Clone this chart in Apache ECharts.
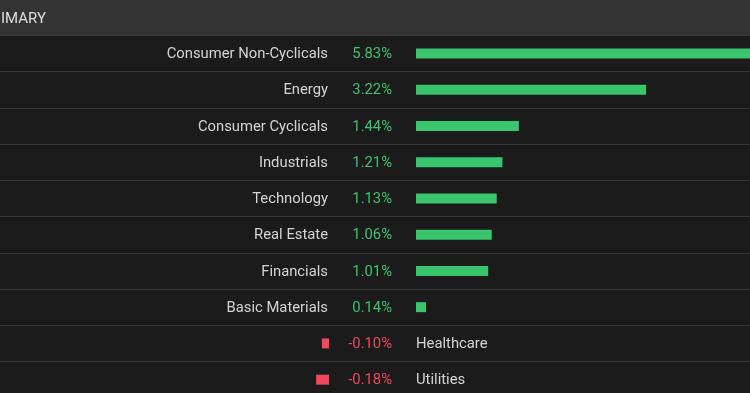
<!DOCTYPE html>
<html>
<head>
<meta charset="utf-8">
<script src="https://cdn.jsdelivr.net/npm/echarts@6/dist/echarts.min.js"></script>
<style>
html,body{margin:0;padding:0;background:#1b1b1b;}
#chart{width:750px;height:393px;}
</style>
</head>
<body>
<div id="chart"></div>
<script>
const headerText = 'IMARY';
const categories = ['Consumer Non-Cyclicals','Energy','Consumer Cyclicals','Industrials','Technology','Real Estate','Financials','Basic Materials','Healthcare','Utilities'];
const values = [5.83, 3.22, 1.44, 1.21, 1.13, 1.06, 1.01, 0.14, -0.10, -0.18];

const PX_PER_UNIT = 71.45;
const GREEN = '#39c46e';
const RED = '#f2475a';
const NAME_COLOR = '#d4d4d4';
const FONT = 'Roboto, "Noto Sans", sans-serif';
const FS = 14.8;
const TOP = 35.3, HEIGHT = 362.5;

const posData = values.map(v => v >= 0 ? v : '-');
const negData = values.map(v => v < 0 ? v : '-');
const fmt = v => v.toFixed(2) + '%';

const chart = echarts.init(document.getElementById('chart'), null, {renderer: 'canvas'});
const catAxisBase = {
  type: 'category', data: categories, inverse: true,
  axisLine: {show: false}, axisTick: {show: false}, axisLabel: {show: false}
};
const gridBase = {top: TOP, height: HEIGHT, outerBoundsMode: 'none', containLabel: false};
chart.setOption({
  backgroundColor: '#1b1b1b',
  animation: false,
  title: {
    text: headerText, left: 1, top: 12, padding: 0,
    textStyle: {color: '#dedede', fontSize: 15, fontWeight: 'normal', fontFamily: FONT}
  },
  graphic: [{type: 'rect', z: -10, shape: {x: 0, y: 0, width: 750, height: TOP + 0.5}, style: {fill: '#333333'}}],
  grid: [
    Object.assign({left: 0, right: 0}, gridBase),
    Object.assign({left: 416, right: 0}, gridBase),
    Object.assign({left: 0, width: 329}, gridBase)
  ],
  xAxis: [
    {gridIndex: 0, type: 'value', min: 0, max: 1, show: false},
    {gridIndex: 1, type: 'value', min: 0, max: 334 / PX_PER_UNIT, show: false},
    {gridIndex: 2, type: 'value', min: -329 / PX_PER_UNIT, max: 0, show: false}
  ],
  yAxis: [
    Object.assign({gridIndex: 0, splitLine: {show: true, lineStyle: {color: '#363636', width: 1}}}, catAxisBase),
    Object.assign({gridIndex: 1, splitLine: {show: false}}, catAxisBase),
    Object.assign({gridIndex: 2, splitLine: {show: false}}, catAxisBase)
  ],
  series: [
    {
      type: 'bar', xAxisIndex: 1, yAxisIndex: 1, data: posData, barWidth: 10,
      itemStyle: {color: GREEN}, clip: true,
      label: {
        show: true, position: 'left', distance: 24, offset: [0, 1],
        formatter: p => '{n|' + categories[p.dataIndex] + '}{v|' + fmt(values[p.dataIndex]) + '}',
        rich: {
          n: {color: NAME_COLOR, fontSize: FS, fontFamily: FONT},
          v: {color: GREEN, fontSize: FS, fontFamily: FONT, width: 64, align: 'right'}
        }
      }
    },
    {
      type: 'bar', xAxisIndex: 2, yAxisIndex: 2, data: negData, barWidth: 10,
      itemStyle: {color: RED},
      label: {
        show: true, position: 'right', distance: 0, offset: [0, 1],
        formatter: p => '{v|' + fmt(values[p.dataIndex]) + '}{n|' + categories[p.dataIndex] + '}',
        rich: {
          v: {color: RED, fontSize: FS, fontFamily: FONT, width: 63, align: 'right'},
          n: {color: NAME_COLOR, fontSize: FS, fontFamily: FONT, padding: [0, 0, 0, 24], align: 'right'}
        }
      }
    }
  ]
});
</script>
</body>
</html>
